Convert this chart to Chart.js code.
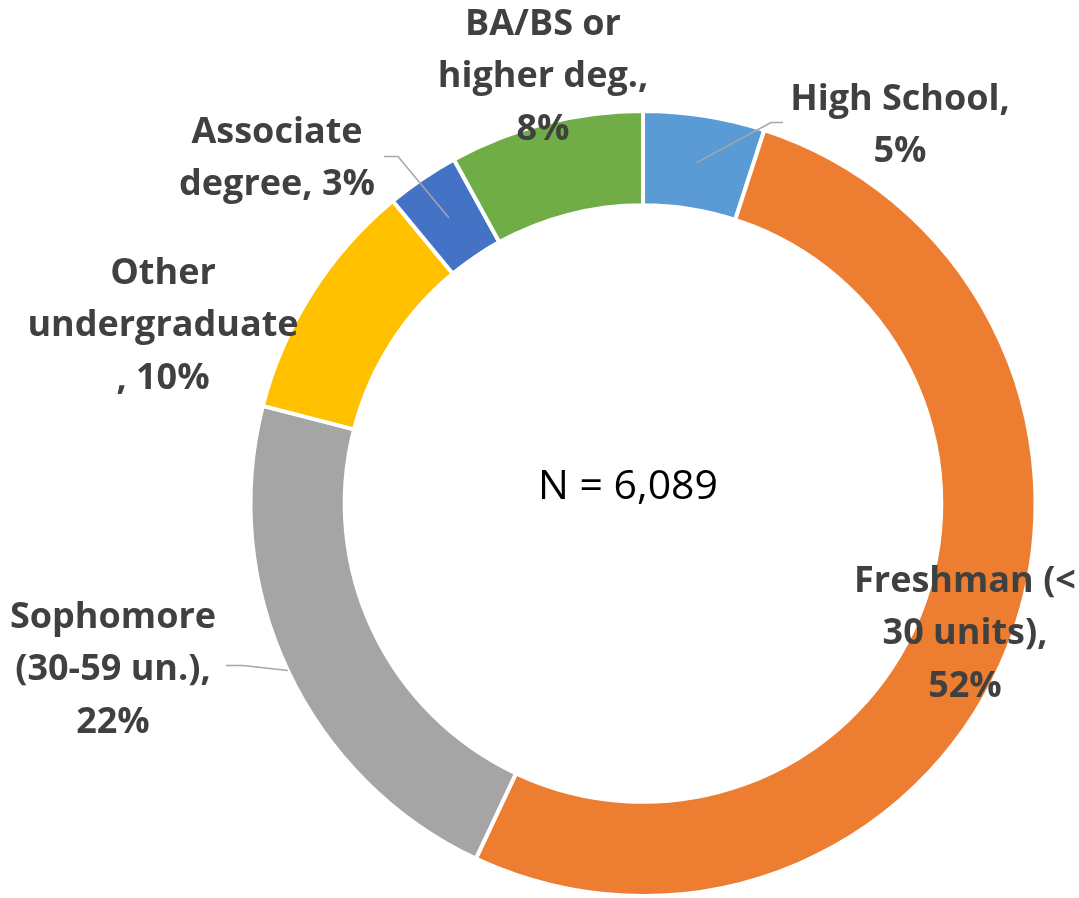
<!DOCTYPE html>
<html>
<head>
<meta charset="utf-8">
<title>Class level</title>
<script src="https://cdn.jsdelivr.net/npm/chart.js@4.4.1/dist/chart.umd.min.js"></script>
<style>
  html, body { margin: 0; padding: 0; background: #ffffff; }
  #wrap { width: 1079px; height: 898px; position: relative; }
</style>
</head>
<body>
<div id="wrap"><canvas id="myChart"></canvas></div>
<script>

// data (clockwise from 12 o'clock)
const categories = ['High School', 'Freshman (< 30 units)', 'Sophomore (30-59 un.)',
                    'Other undergraduate', 'Associate degree', 'BA/BS or higher deg.'];
const percents = [5, 52, 22, 10, 3, 8];
const sliceColors = ['#5B9BD5', '#ED7D31', '#A5A5A5', '#FFC000', '#4472C4', '#70AD47'];
const totalN = '6,089';

// how each label is wrapped, as in the original
const labelLines = [
  ['High School,', '5%'],
  ['Freshman (<', '30 units),', '52%'],
  ['Sophomore', '(30-59 un.),', '22%'],
  ['Other', 'undergraduate', ', 10%'],
  ['Associate', 'degree, 3%'],
  ['BA/BS or', 'higher deg.,', '8%']
];

// label placement, offsets in px from the doughnut centre (first line centre)
const labelPos = [
  [257, -404], [322, 78], [-530, 114], [-480, -230], [-366, -371], [-100, -479]
];
// leader lines: [start radius (0 = middle of ring, 1 = outer edge), elbow, end]
const leaders = [
  [0, [128, -381], [140, -381]],
  null,
  [1, [-400, 162], [-417, 162]],
  null,
  [0, [-245, -347], [-259, -347]],
  null
];

const labelPlugin = {
  id: 'sliceLabels',
  afterDatasetsDraw(chart) {
    const ctx = chart.ctx;
    const arcs = chart.getDatasetMeta(0).data;
    ctx.save();

    // leader lines first
    ctx.strokeStyle = '#A6A6A6';
    ctx.lineWidth = 1.5;
    arcs.forEach(function(arc, i) {
      const ld = leaders[i];
      if (!ld) return;
      const p = arc.getProps(['x', 'y', 'startAngle', 'endAngle', 'innerRadius', 'outerRadius'], true);
      const mid = (p.startAngle + p.endAngle) / 2;
      const r = ld[0] ? p.outerRadius : (p.innerRadius + p.outerRadius) / 2;
      ctx.beginPath();
      ctx.moveTo(p.x + Math.cos(mid) * r, p.y + Math.sin(mid) * r);
      ctx.lineTo(p.x + ld[1][0], p.y + ld[1][1]);
      ctx.lineTo(p.x + ld[2][0], p.y + ld[2][1]);
      ctx.stroke();
    });

    // labels
    ctx.fillStyle = '#404040';
    ctx.font = 'bold 36px "Open Sans"';
    ctx.textAlign = 'center';
    ctx.textBaseline = 'middle';
    arcs.forEach(function(arc, i) {
      const lines = labelLines[i];
      for (let k = 0; k < lines.length; k++) {
        ctx.fillText(lines[k], arc.x + labelPos[i][0], arc.y + labelPos[i][1] + k * 52.5);
      }
    });

    // centre text
    const a = arcs[0];
    ctx.fillStyle = '#000000';
    ctx.font = '41px "Open Sans"';
    ctx.fillText('N = ' + totalN, a.x - 15, a.y - 16);
    ctx.restore();
  }
};

const ctx = document.getElementById('myChart');

new Chart(ctx, {
  type: 'doughnut',
  data: {
    labels: categories,
    datasets: [{
      data: percents,
      backgroundColor: sliceColors,
      borderColor: '#ffffff',
      borderWidth: 4
    }]
  },
  options: {
    responsive: true,
    maintainAspectRatio: false,
    animation: false,
    cutout: '76%',
    layout: {
      padding: { left: 248, right: 41, top: 109, bottom: 0 }
    },
    plugins: {
      legend: { display: false },
      tooltip: { enabled: false }
    }
  },
  plugins: [labelPlugin]
});

</script>
</body>
</html>
